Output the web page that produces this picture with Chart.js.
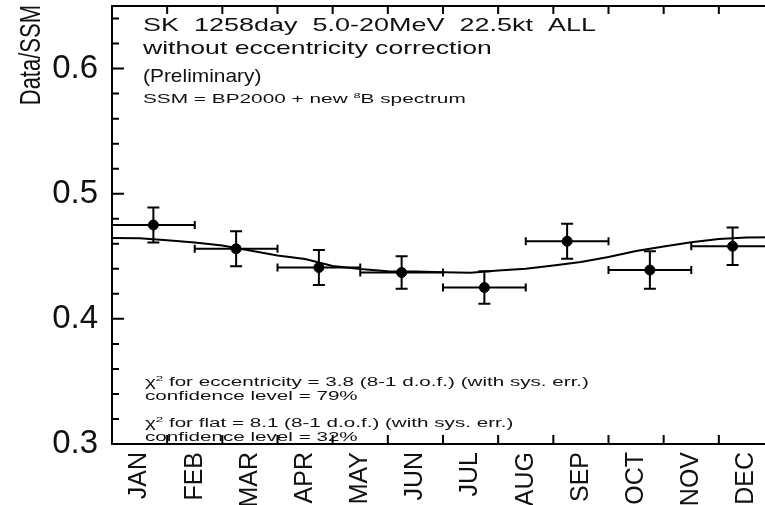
<!DOCTYPE html>
<html>
<head>
<meta charset="utf-8">
<script src="https://cdn.jsdelivr.net/npm/chart.js@4.4.1/dist/chart.umd.min.js"></script>
<style>
  html, body { margin: 0; padding: 0; background: #fff; overflow: hidden; }
  canvas { display: block; }
</style>
</head>
<body>
<canvas id="seasonChart" width="780" height="505"></canvas>
<script>
const monthNames = ['JAN', 'FEB', 'MAR', 'APR', 'MAY', 'JUN', 'JUL', 'AUG', 'SEP', 'OCT', 'NOV', 'DEC'];
const monthEdges = [1, 2, 3, 4, 5, 6, 7, 8, 9, 10, 11];

// 8 bins of 1.5 months each
const binEdges = [0, 1.5, 3, 4.5, 6, 7.5, 9, 10.5, 12];
const binCenters = [0.75, 2.25, 3.75, 5.25, 6.75, 8.25, 9.75, 11.25];
const ratio = [0.475, 0.456, 0.441, 0.437, 0.425, 0.462, 0.439, 0.458];
const ratioErr = [0.014, 0.014, 0.014, 0.013, 0.013, 0.014, 0.015, 0.015];

// expected variation from the orbit eccentricity
const curveMonths = [0, 0.5, 1, 1.5, 2, 2.5, 3, 3.5, 4, 4.5, 5, 5.5, 6,
                     6.5, 7, 7.5, 8, 8.5, 9, 9.5, 10, 10.5, 11, 11.5, 12];
const curveRatio = [0.4647, 0.4645, 0.4629, 0.4610, 0.4586, 0.4546, 0.4506, 0.4478, 0.4422,
                    0.4398, 0.4381, 0.4378, 0.4372, 0.4368, 0.4386, 0.4400, 0.4426, 0.4454,
                    0.4494, 0.4542, 0.4578, 0.4612, 0.4639, 0.4650, 0.4652];

const yMajorTicks = [0.3, 0.4, 0.5, 0.6];
const yMinorTicks = [0.32, 0.34, 0.36, 0.38, 0.42, 0.44, 0.46, 0.48,
                     0.52, 0.54, 0.56, 0.58, 0.62, 0.64];

const FONT = '"Liberation Sans", Arial, Helvetica, sans-serif';
const INK = '#111';

// draws a line of text made of runs (for superscripts), stretched sideways by sx
function drawRuns(ctx, runs, x, baseline, sx) {
    ctx.save();
    ctx.translate(x, baseline);
    ctx.scale(sx, 1);
    ctx.fillStyle = INK;
    ctx.textAlign = 'left';
    ctx.textBaseline = 'alphabetic';
    let cx = 0;
    for (const r of runs) {
        ctx.font = r.size + 'px ' + FONT;
        ctx.fillText(r.t, cx, -(r.rise || 0));
        cx += ctx.measureText(r.t).width;
    }
    ctx.restore();
}

const errorBars = {
    id: 'errorBars',
    beforeDatasetsDraw(chart) {
        const { ctx, scales: { x, y } } = chart;
        ctx.save();
        ctx.strokeStyle = '#000';
        ctx.lineWidth = 2;
        ctx.beginPath();
        ratio.forEach((v, i) => {
            const xl = x.getPixelForValue(binEdges[i]);
            const xr = x.getPixelForValue(binEdges[i + 1]);
            const xc = x.getPixelForValue(binCenters[i]);
            const yc = y.getPixelForValue(v);
            const yt = y.getPixelForValue(v + ratioErr[i]);
            const yb = y.getPixelForValue(v - ratioErr[i]);
            ctx.moveTo(xl, yc); ctx.lineTo(xr, yc);
            ctx.moveTo(xl, yc - 4); ctx.lineTo(xl, yc + 4);
            ctx.moveTo(xr, yc - 4); ctx.lineTo(xr, yc + 4);
            ctx.moveTo(xc, yt); ctx.lineTo(xc, yb);
            ctx.moveTo(xc - 6, yt); ctx.lineTo(xc + 6, yt);
            ctx.moveTo(xc - 6, yb); ctx.lineTo(xc + 6, yb);
        });
        ctx.stroke();
        ctx.restore();
    }
};

const frameNotes = {
    id: 'frameNotes',
    afterDraw(chart) {
        const { ctx, chartArea: a, scales: { x, y } } = chart;
        ctx.save();
        ctx.strokeStyle = '#000';
        ctx.lineWidth = 2;
        ctx.beginPath();
        // top edge of the frame
        ctx.moveTo(a.left, a.top); ctx.lineTo(a.right, a.top);
        // inward ticks on the value axis
        yMajorTicks.forEach(v => {
            const py = y.getPixelForValue(v);
            ctx.moveTo(a.left, py); ctx.lineTo(a.left + 12, py);
        });
        yMinorTicks.forEach(v => {
            const py = y.getPixelForValue(v);
            ctx.moveTo(a.left, py); ctx.lineTo(a.left + 7, py);
        });
        // month boundaries, bottom and top
        monthEdges.forEach(m => {
            const px = x.getPixelForValue(m);
            ctx.moveTo(px, a.bottom); ctx.lineTo(px, a.bottom - 9);
            ctx.moveTo(px, a.top); ctx.lineTo(px, a.top + 8);
        });
        ctx.stroke();
        ctx.restore();

        // rotated axis title
        ctx.save();
        ctx.translate(32, 5);
        ctx.scale(1.35, 1);
        ctx.rotate(-Math.PI / 2);
        ctx.fillStyle = INK;
        ctx.font = '22px ' + FONT;
        ctx.textAlign = 'right';
        ctx.textBaseline = 'middle';
        ctx.fillText('Data/SSM', 0, 0);
        ctx.restore();

        const left = 143;
        drawRuns(ctx, [{ t: 'SK  1258day  5.0-20MeV  22.5kt  ALL', size: 19 }], left, 31, 1.42);
        drawRuns(ctx, [{ t: 'without eccentricity correction', size: 19 }], left, 54, 1.4);
        drawRuns(ctx, [{ t: '(Preliminary)', size: 19 }], left, 82, 1.1);
        drawRuns(ctx, [
            { t: 'SSM = BP2000 + new ', size: 13 },
            { t: '8', size: 8, rise: 5 },
            { t: 'B spectrum', size: 13 }
        ], left, 103, 1.6);

        const small = 12.5, sxs = 1.65;
        drawRuns(ctx, [
            { t: '\u03c7', size: small },
            { t: '2', size: 8, rise: 5 },
            { t: ' for eccentricity = 3.8 (8-1 d.o.f.) (with sys. err.)', size: small }
        ], 145, 386, sxs);
        drawRuns(ctx, [{ t: 'confidence level = 79%', size: small }], 145, 400, sxs);
        drawRuns(ctx, [
            { t: '\u03c7', size: small },
            { t: '2', size: 8, rise: 5 },
            { t: ' for flat = 8.1 (8-1 d.o.f.) (with sys. err.)', size: small }
        ], 145, 427, sxs);
        drawRuns(ctx, [{ t: 'confidence level = 32%', size: small }], 145, 441, sxs);
    }
};

const ctx = document.getElementById('seasonChart').getContext('2d');

new Chart(ctx, {
    type: 'scatter',
    data: {
        datasets: [
            {
                label: 'eccentricity',
                type: 'line',
                data: curveMonths.map((m, i) => ({ x: m, y: curveRatio[i] })),
                borderColor: '#000',
                borderWidth: 2,
                pointRadius: 0,
                fill: false,
                tension: 0,
                order: 2
            },
            {
                label: 'Data/SSM',
                data: binCenters.map((m, i) => ({ x: m, y: ratio[i] })),
                backgroundColor: '#000',
                borderColor: '#000',
                pointRadius: 5,
                showLine: false,
                order: 1
            }
        ]
    },
    options: {
        responsive: false,
        animation: false,
        layout: { padding: { top: 5, right: 3, left: 0, bottom: 0 } },
        plugins: {
            legend: { display: false },
            tooltip: { enabled: false }
        },
        scales: {
            x: {
                type: 'linear',
                min: 0,
                max: 12,
                afterBuildTicks: s => { s.ticks = monthNames.map((n, i) => ({ value: i + 0.5 })); },
                afterFit: s => {
                    s.height = 61;
                    s.paddingLeft = 0;
                    s.paddingRight = 0;
                },
                grid: { display: false, drawTicks: false },
                border: { display: true, color: '#000', width: 2 },
                ticks: {
                    autoSkip: false,
                    minRotation: 90,
                    maxRotation: 90,
                    padding: 8,
                    color: INK,
                    font: { family: FONT, size: 25 },
                    callback: (v, i) => monthNames[i]
                }
            },
            y: {
                min: 0.3,
                max: 0.65,
                afterBuildTicks: s => { s.ticks = yMajorTicks.map(v => ({ value: v })); },
                afterFit: s => {
                    s.width = 112;
                    s.paddingTop = 0;
                    s.paddingBottom = 0;
                },
                grid: { display: false, drawTicks: false },
                border: { display: true, color: '#000', width: 2 },
                ticks: {
                    padding: 14,
                    color: INK,
                    font: { family: FONT, size: 33 },
                    callback: v => v.toFixed(1)
                }
            }
        }
    },
    plugins: [errorBars, frameNotes]
});
</script>
</body>
</html>
